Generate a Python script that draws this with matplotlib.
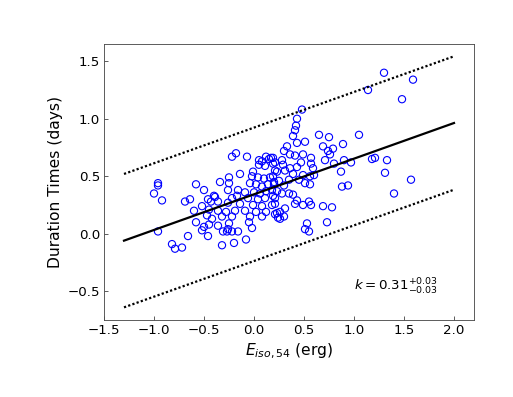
import numpy as np
import matplotlib.pyplot as plt

# valores: E_iso,54 (x) e duração em dias (y)
x_vals = np.array([
    1.30, 1.59, 1.14, 1.48, 0.48, 0.43, 0.42, 0.41, 0.39, 0.43, 0.51, 0.65, 0.75, 1.05,
    0.33, 0.30, 0.36, 0.41, 0.49, 0.69, 0.74, 0.79, 0.76, 0.89, 0.57, 0.71, 0.90, 0.97,
    0.80, 1.18, 1.21, 1.33, 0.87, 1.31, 1.57, 0.88, 0.94, 1.40, 0.69, 0.78, 0.73, 0.51,
    0.55, 0.53,
    0.19, 0.28, 0.47, 0.57, 0.29, 0.36, 0.43, 0.59, 0.21, 0.31, 0.39, 0.49, 0.56, 0.60,
    0.19, 0.25, 0.35, 0.45, 0.51, 0.56, 0.20, 0.30, 0.23, 0.28, 0.35, 0.39, 0.19, 0.43,
    0.55, 0.57, 0.49, 0.41, 0.21, 0.31, 0.26, 0.21, 0.30, 0.26,
    -0.22, -0.18, -0.07, 0.12, 0.15, 0.08, 0.05, 0.11, 0.21, -0.01, -0.14, -0.25, -0.25,
    -0.26, -0.02, 0.04, 0.10, 0.16, 0.23, -0.04, 0.02, 0.08, 0.14, 0.20, -0.16, -0.09,
    0.00, 0.06, 0.12, 0.18, -0.17, -0.22, -0.06, 0.04, 0.11, 0.21, -0.26, -0.14, -0.01,
    0.08, 0.18, -0.19, -0.09, 0.02, 0.12, 0.23, -0.22, -0.04, 0.08, 0.24, -0.25, -0.05,
    -0.26, -0.02, -0.22, -0.16, -0.08, -0.20, 0.05, 0.17, 0.19,
    -0.96, -0.96, -1.00, -0.92, -0.58, -0.50, -0.34, -0.69, -0.64, -0.46, -0.40, -0.36,
    -0.52, -0.60, -0.45, -0.47, -0.36, -0.42, -0.32, -0.58, -0.50, -0.52, -0.45, -0.36,
    -0.31, -0.27, -0.96, -0.46, -0.66, -0.82, -0.79, -0.72, -0.32, -0.43, -0.39, -0.28,
])
y_vals = np.array([
    1.40, 1.34, 1.25, 1.17, 1.08, 1.00, 0.94, 0.90, 0.85, 0.79, 0.80, 0.86, 0.84, 0.86,
    0.76, 0.72, 0.69, 0.68, 0.69, 0.76, 0.72, 0.74, 0.69, 0.78, 0.66, 0.64, 0.64, 0.62,
    0.61, 0.65, 0.66, 0.64, 0.54, 0.53, 0.47, 0.41, 0.42, 0.35, 0.24, 0.23, 0.10, 0.04,
    0.02, 0.09,
    0.66, 0.64, 0.62, 0.61, 0.60, 0.57, 0.58, 0.57, 0.55, 0.55, 0.52, 0.51, 0.50, 0.51,
    0.50, 0.46, 0.47, 0.47, 0.44, 0.43, 0.43, 0.42, 0.37, 0.35, 0.35, 0.34, 0.33, 0.29,
    0.28, 0.25, 0.25, 0.26, 0.26, 0.22, 0.19, 0.17, 0.15, 0.13,
    0.67, 0.70, 0.67, 0.67, 0.65, 0.63, 0.60, 0.59, 0.62, 0.54, 0.52, 0.49, 0.44,
    0.38, 0.50, 0.49, 0.48, 0.49, 0.54, 0.44, 0.43, 0.41, 0.43, 0.45, 0.38, 0.36,
    0.36, 0.35, 0.37, 0.38, 0.33, 0.31, 0.31, 0.30, 0.31, 0.31, 0.27, 0.26, 0.25,
    0.24, 0.25, 0.20, 0.20, 0.19, 0.19, 0.18, 0.15, 0.15, 0.15, 0.14, 0.09, 0.10,
    0.04, 0.05, 0.02, 0.02, -0.05, -0.08, 0.64, 0.66, 0.61,
    0.44, 0.42, 0.35, 0.29, 0.43, 0.38, 0.45, 0.28, 0.30, 0.30, 0.33, 0.28,
    0.24, 0.20, 0.21, 0.16, 0.20, 0.13, 0.15, 0.10, 0.06, 0.03, 0.08, 0.07,
    0.02, 0.02, 0.02, -0.02, -0.02, -0.09, -0.13, -0.12, -0.10, 0.28, 0.32, 0.19,
])

# parâmetros do ajuste
slope = 0.31
intercept = 0.343
spread = 0.58
x_fit = np.array([-1.3, 2.0])

fig = plt.figure(figsize=(513 / 80, 397 / 80), dpi=80)
ax = fig.add_axes([104 / 513, 77 / 397, 370 / 513, 276 / 397])

ax.scatter(x_vals, y_vals, s=42, facecolors='none', edgecolors='blue', linewidths=1)
ax.plot(x_fit, slope * x_fit + intercept, color='black', lw=2)
ax.plot(x_fit, slope * x_fit + intercept + spread, color='black', lw=2, ls=(0, (1, 1)))
ax.plot(x_fit, slope * x_fit + intercept - spread, color='black', lw=2, ls=(0, (1, 1)))

ax.text(1.0, -0.46, r'$k = 0.31^{+0.03}_{-0.03}$', fontsize=12, va='center')

ax.set_xlim(-1.5, 2.2)
ax.set_ylim(-0.75, 1.65)
ax.set_xticks([-1.5, -1.0, -0.5, 0.0, 0.5, 1.0, 1.5, 2.0])
ax.set_yticks([-0.5, 0.0, 0.5, 1.0, 1.5])
ax.tick_params(direction='in', labelsize=12, color='0.3')
for sp in ax.spines.values():
    sp.set_color('0.3')

ax.set_xlabel(r'$E_{iso,54}$ (erg)', fontsize=14)
ax.set_ylabel('Duration Times (days)', fontsize=14)

fig.savefig('out.png', dpi=80)
